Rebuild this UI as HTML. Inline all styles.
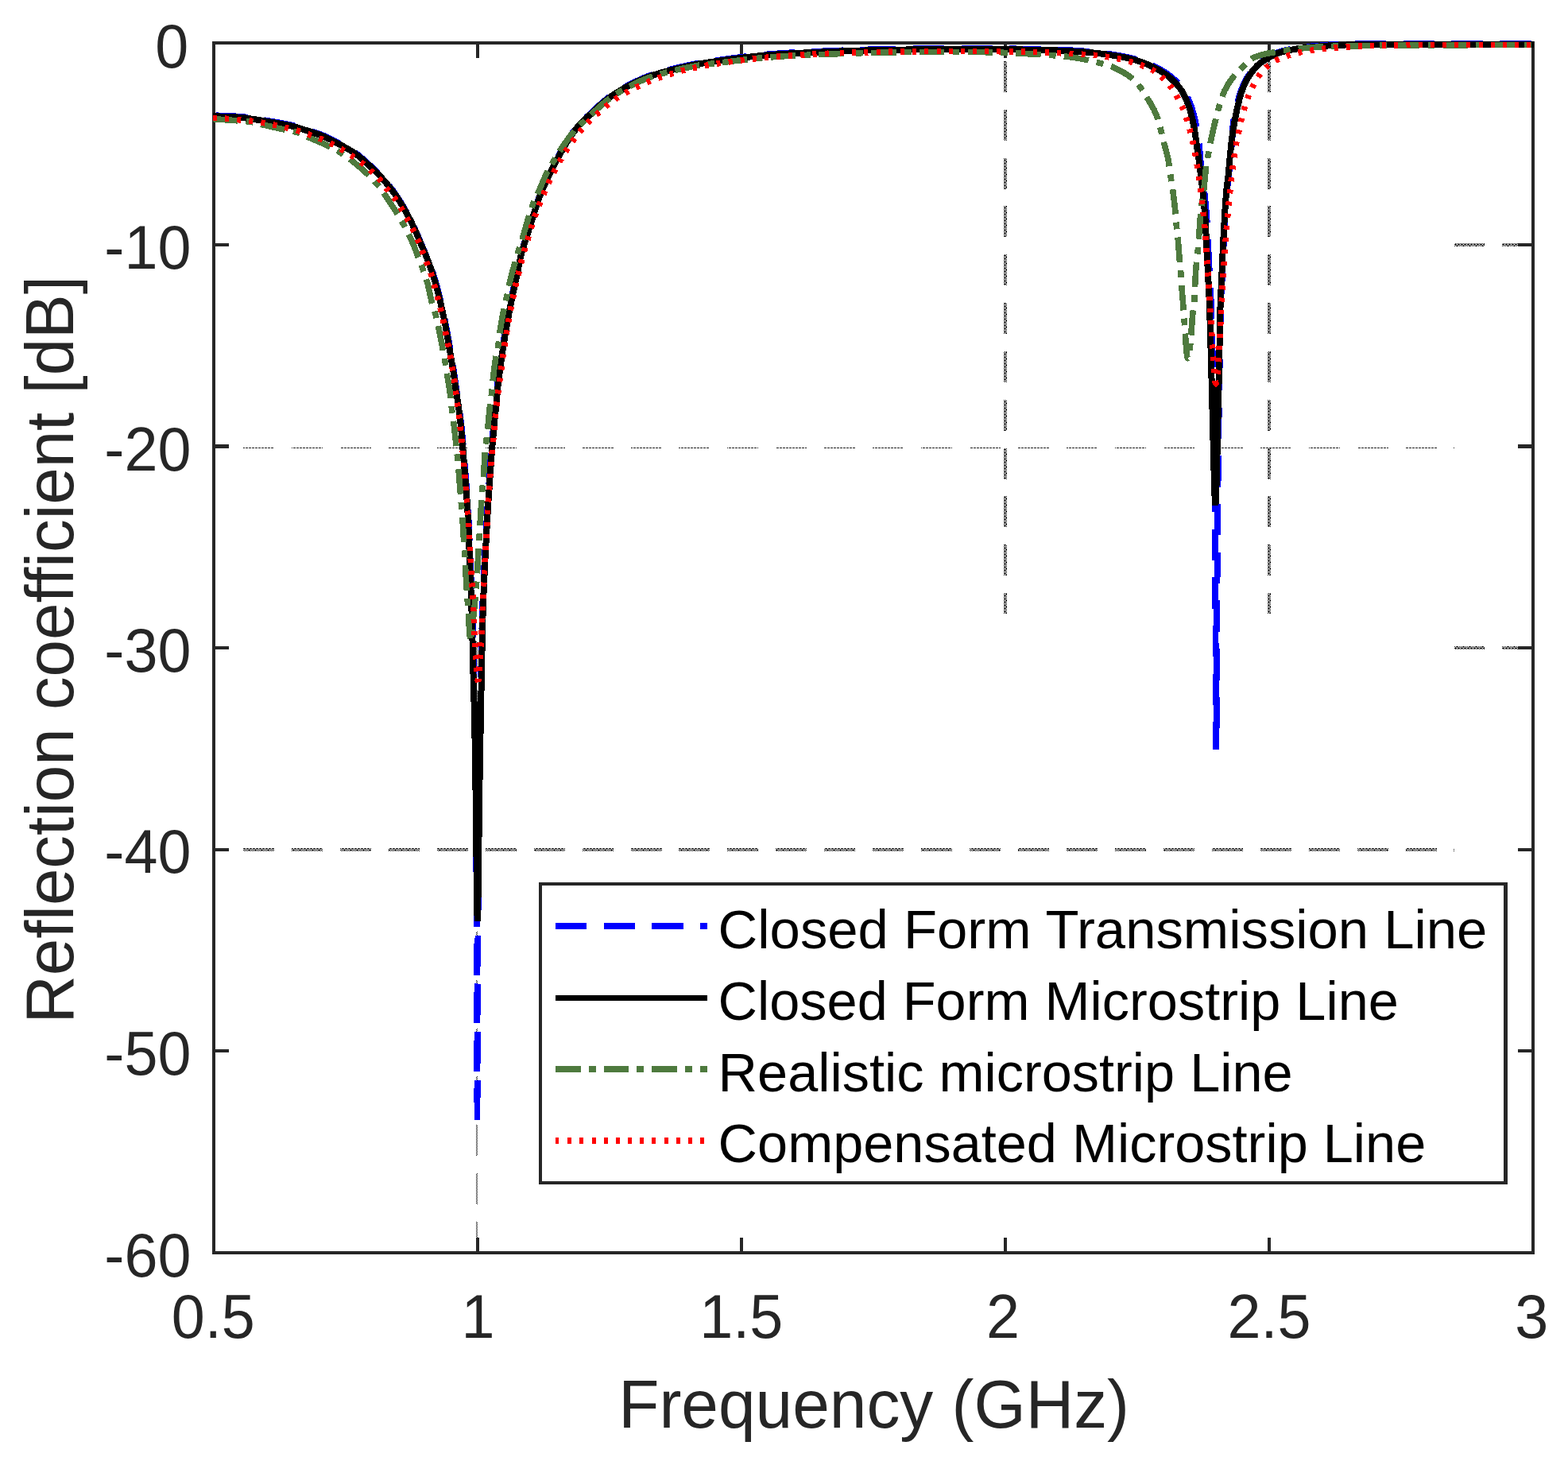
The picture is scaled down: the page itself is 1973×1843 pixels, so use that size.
<!DOCTYPE html>
<html lang="en">
<head>
<meta charset="utf-8">
<title>Reflection coefficient vs frequency</title>
<style>
html, body { margin: 0; padding: 0; background: #ffffff; }
body { width: 1973px; height: 1843px; overflow: hidden; font-family: 'Liberation Sans', Arial, Helvetica, sans-serif; }
svg { display: block; }
</style>
</head>
<body>
<svg width="1973" height="1843" viewBox="0 0 1973 1843" role="img" aria-label="Reflection coefficient versus frequency">
<rect x="0" y="0" width="1973" height="1843" fill="#ffffff"/>
<!-- grid -->
<defs>
<pattern id="dv" x="1263" y="77" width="4" height="8" patternUnits="userSpaceOnUse">
<path fill="#1a1a1a" d="M0 0h3v1h-3z M1 1h1v1h-1z M3 1h1v1h-1z M0 2h1v1h-1z M2 2h1v1h-1z M1 3h1v1h-1z M3 3h1v1h-1z M0 4h3v1h-3z M1 5h1v1h-1z M3 5h1v1h-1z M0 6h1v1h-1z M2 6h2v1h-2z M1 7h1v1h-1z M3 7h1v1h-1z"/>
</pattern>
<pattern id="dh" x="304" y="1067" width="8" height="4" patternUnits="userSpaceOnUse">
<path fill="#1a1a1a" d="M0 0h1v1h-1z M2 0h3v1h-3z M6 0h2v1h-2z M1 1h1v1h-1z M3 1h1v1h-1z M5 1h1v1h-1z M7 1h1v1h-1z M0 2h3v1h-3z M4 2h1v1h-1z M6 2h1v1h-1z M1 3h1v1h-1z M3 3h1v1h-1z M5 3h1v1h-1z M7 3h1v1h-1z"/>
</pattern>
<pattern id="d20" x="0" y="563" width="4" height="1" patternUnits="userSpaceOnUse">
<path fill="#1a1a1a" d="M1 0h3v1h-3z"/>
</pattern>
<pattern id="dc" x="599" y="1417" width="2" height="2" patternUnits="userSpaceOnUse">
<path fill="#1a1a1a" d="M0 0h1v1h-1z M1 1h1v1h-1z"/>
</pattern>
</defs>
<g shape-rendering="crispEdges" stroke="none">
<rect x="1263" y="77" width="4" height="39" fill="url(#dv)"/>
<rect x="1263" y="138" width="4" height="39" fill="url(#dv)"/>
<rect x="1263" y="199" width="4" height="39" fill="url(#dv)"/>
<rect x="1263" y="259" width="4" height="39" fill="url(#dv)"/>
<rect x="1263" y="320" width="4" height="39" fill="url(#dv)"/>
<rect x="1263" y="381" width="4" height="39" fill="url(#dv)"/>
<rect x="1263" y="442" width="4" height="39" fill="url(#dv)"/>
<rect x="1263" y="503" width="4" height="39" fill="url(#dv)"/>
<rect x="1263" y="564" width="4" height="39" fill="url(#dv)"/>
<rect x="1263" y="624" width="4" height="39" fill="url(#dv)"/>
<rect x="1263" y="685" width="4" height="39" fill="url(#dv)"/>
<rect x="1263" y="746" width="4" height="26" fill="url(#dv)"/>
<rect x="1595" y="77" width="4" height="39" fill="url(#dv)"/>
<rect x="1595" y="138" width="4" height="39" fill="url(#dv)"/>
<rect x="1595" y="199" width="4" height="39" fill="url(#dv)"/>
<rect x="1595" y="259" width="4" height="39" fill="url(#dv)"/>
<rect x="1595" y="320" width="4" height="39" fill="url(#dv)"/>
<rect x="1595" y="381" width="4" height="39" fill="url(#dv)"/>
<rect x="1595" y="442" width="4" height="39" fill="url(#dv)"/>
<rect x="1595" y="503" width="4" height="39" fill="url(#dv)"/>
<rect x="1595" y="564" width="4" height="39" fill="url(#dv)"/>
<rect x="1595" y="624" width="4" height="39" fill="url(#dv)"/>
<rect x="1595" y="685" width="4" height="39" fill="url(#dv)"/>
<rect x="1595" y="746" width="4" height="26" fill="url(#dv)"/>
<rect x="599" y="807" width="2" height="39" fill="url(#dc)"/>
<rect x="599" y="868" width="2" height="39" fill="url(#dc)"/>
<rect x="599" y="929" width="2" height="39" fill="url(#dc)"/>
<rect x="599" y="989" width="2" height="39" fill="url(#dc)"/>
<rect x="599" y="1050" width="2" height="39" fill="url(#dc)"/>
<rect x="599" y="1111" width="2" height="39" fill="url(#dc)"/>
<rect x="599" y="1172" width="2" height="39" fill="url(#dc)"/>
<rect x="599" y="1233" width="2" height="39" fill="url(#dc)"/>
<rect x="599" y="1294" width="2" height="39" fill="url(#dc)"/>
<rect x="599" y="1354" width="2" height="39" fill="url(#dc)"/>
<rect x="599" y="1415" width="2" height="39" fill="url(#dc)"/>
<rect x="599" y="1476" width="2" height="39" fill="url(#dc)"/>
<rect x="599" y="1537" width="2" height="39" fill="url(#dc)"/>
<rect x="306" y="563" width="39" height="1" fill="url(#d20)"/>
<rect x="306" y="1067" width="39" height="4" fill="url(#dh)"/>
<rect x="367" y="563" width="39" height="1" fill="url(#d20)"/>
<rect x="367" y="1067" width="39" height="4" fill="url(#dh)"/>
<rect x="428" y="563" width="39" height="1" fill="url(#d20)"/>
<rect x="428" y="1067" width="39" height="4" fill="url(#dh)"/>
<rect x="489" y="563" width="39" height="1" fill="url(#d20)"/>
<rect x="489" y="1067" width="39" height="4" fill="url(#dh)"/>
<rect x="550" y="563" width="39" height="1" fill="url(#d20)"/>
<rect x="550" y="1067" width="39" height="4" fill="url(#dh)"/>
<rect x="611" y="563" width="39" height="1" fill="url(#d20)"/>
<rect x="611" y="1067" width="39" height="4" fill="url(#dh)"/>
<rect x="672" y="563" width="39" height="1" fill="url(#d20)"/>
<rect x="672" y="1067" width="39" height="4" fill="url(#dh)"/>
<rect x="733" y="563" width="39" height="1" fill="url(#d20)"/>
<rect x="733" y="1067" width="39" height="4" fill="url(#dh)"/>
<rect x="794" y="563" width="39" height="1" fill="url(#d20)"/>
<rect x="794" y="1067" width="39" height="4" fill="url(#dh)"/>
<rect x="854" y="563" width="39" height="1" fill="url(#d20)"/>
<rect x="854" y="1067" width="39" height="4" fill="url(#dh)"/>
<rect x="915" y="563" width="39" height="1" fill="url(#d20)"/>
<rect x="915" y="1067" width="39" height="4" fill="url(#dh)"/>
<rect x="976" y="563" width="39" height="1" fill="url(#d20)"/>
<rect x="976" y="1067" width="39" height="4" fill="url(#dh)"/>
<rect x="1037" y="563" width="39" height="1" fill="url(#d20)"/>
<rect x="1037" y="1067" width="39" height="4" fill="url(#dh)"/>
<rect x="1098" y="563" width="39" height="1" fill="url(#d20)"/>
<rect x="1098" y="1067" width="39" height="4" fill="url(#dh)"/>
<rect x="1159" y="563" width="39" height="1" fill="url(#d20)"/>
<rect x="1159" y="1067" width="39" height="4" fill="url(#dh)"/>
<rect x="1220" y="563" width="39" height="1" fill="url(#d20)"/>
<rect x="1220" y="1067" width="39" height="4" fill="url(#dh)"/>
<rect x="1281" y="563" width="39" height="1" fill="url(#d20)"/>
<rect x="1281" y="1067" width="39" height="4" fill="url(#dh)"/>
<rect x="1342" y="563" width="39" height="1" fill="url(#d20)"/>
<rect x="1342" y="1067" width="39" height="4" fill="url(#dh)"/>
<rect x="1403" y="563" width="39" height="1" fill="url(#d20)"/>
<rect x="1403" y="1067" width="39" height="4" fill="url(#dh)"/>
<rect x="1464" y="563" width="39" height="1" fill="url(#d20)"/>
<rect x="1464" y="1067" width="39" height="4" fill="url(#dh)"/>
<rect x="1525" y="563" width="39" height="1" fill="url(#d20)"/>
<rect x="1525" y="1067" width="39" height="4" fill="url(#dh)"/>
<rect x="1586" y="563" width="39" height="1" fill="url(#d20)"/>
<rect x="1586" y="1067" width="39" height="4" fill="url(#dh)"/>
<rect x="1647" y="563" width="39" height="1" fill="url(#d20)"/>
<rect x="1647" y="1067" width="39" height="4" fill="url(#dh)"/>
<rect x="1708" y="563" width="39" height="1" fill="url(#d20)"/>
<rect x="1708" y="1067" width="39" height="4" fill="url(#dh)"/>
<rect x="1769" y="563" width="39" height="1" fill="url(#d20)"/>
<rect x="1769" y="1067" width="39" height="4" fill="url(#dh)"/>
<rect x="1829" y="563" width="1" height="1" fill="url(#d20)"/>
<rect x="1829" y="1067" width="1" height="4" fill="url(#dh)"/>
<rect x="1830" y="306" width="38" height="4" fill="url(#dh)"/>
<rect x="1890" y="306" width="21" height="4" fill="url(#dh)"/>
<rect x="1830" y="813" width="38" height="4" fill="url(#dh)"/>
<rect x="1890" y="813" width="21" height="4" fill="url(#dh)"/>
</g>
<!-- axes -->
<g stroke="#262626" stroke-width="4" fill="none" shape-rendering="crispEdges">
<rect x="269" y="54" width="1660" height="1522"/>
<line x1="601" y1="1576" x2="601" y2="1557"/>
<line x1="601" y1="54" x2="601" y2="73"/>
<line x1="933" y1="1576" x2="933" y2="1557"/>
<line x1="933" y1="54" x2="933" y2="73"/>
<line x1="1265" y1="1576" x2="1265" y2="1557"/>
<line x1="1265" y1="54" x2="1265" y2="73"/>
<line x1="1597" y1="1576" x2="1597" y2="1557"/>
<line x1="1597" y1="54" x2="1597" y2="73"/>
<line x1="269" y1="308" x2="288" y2="308"/>
<line x1="1929" y1="308" x2="1910" y2="308"/>
<line x1="269" y1="561.5" x2="288" y2="561.5" stroke-width="5"/>
<line x1="1929" y1="561.5" x2="1910" y2="561.5" stroke-width="5"/>
<line x1="269" y1="815" x2="288" y2="815"/>
<line x1="1929" y1="815" x2="1910" y2="815"/>
<line x1="269" y1="1069" x2="288" y2="1069"/>
<line x1="1929" y1="1069" x2="1910" y2="1069"/>
<line x1="269" y1="1322" x2="288" y2="1322"/>
<line x1="1929" y1="1322" x2="1910" y2="1322"/>
</g>
<!-- curves -->
<g fill="none" stroke-linejoin="miter" stroke-miterlimit="2" shape-rendering="crispEdges">
<path id="c-blue-a" stroke="#0000ff" stroke-width="7.8" stroke-dasharray="39.40 21.30" stroke-dashoffset="56.37" d="M268.00 145.12 L296.00 146.34 L304.00 146.88 L309.00 147.43 L333.00 151.20 L352.00 154.52 L363.00 156.66 L371.00 158.59 L379.00 160.96 L397.00 166.78 L404.00 169.30 L410.00 171.81 L416.00 174.76 L437.00 185.88 L444.00 190.12 L450.00 194.44 L457.00 200.24 L468.00 210.23 L476.00 218.15 L483.00 225.74 L490.00 234.03 L496.00 241.93 L501.00 249.26 L507.00 258.90 L513.00 269.55 L516.00 275.31 L519.00 281.43 L524.00 292.42 L531.00 309.13 L536.00 320.54 L541.00 332.93 L545.00 344.10 L548.00 353.94 L551.00 364.96 L554.00 376.74 L557.00 389.57 L560.00 403.71 L563.20 420.44 L570.60 463.93 L574.20 489.56 L576.50 503.74 L578.20 515.77 L580.50 535.29 L582.90 561.40 L588.00 625.07 L589.80 656.97 L593.10 738.03 L594.40 774.43 L596.30 851.60 L597.49 890.62 L598.04 920.39 L598.76 989.43 L599.37 1086.61 L600.50 1414.13 L601.28 1205.26 L601.87 1098.61 L602.79 997.01 L604.05 908.54 L606.30 793.29 L607.30 758.91 L608.30 734.22 L610.10 696.15 L614.10 624.99 L615.80 602.10 L617.30 579.09 L618.50 563.76 L621.40 530.83 L624.20 505.48 L625.70 486.76 L626.90 476.41 L630.30 451.01 L632.80 434.25 L635.60 417.11 L638.70 399.61 L642.00 382.43 L645.00 367.86 L650.00 345.34 L654.00 324.68 L655.00 320.38 L657.00 313.83 L660.00 305.30 L675.00 257.73 L678.00 248.85 L682.00 238.78 L686.00 229.87 L696.00 209.25 L703.00 195.69 L710.00 183.46 L716.00 173.64 L719.00 169.08 L722.00 164.83 L727.00 158.51 L730.00 155.21 L733.00 152.18 L752.00 134.23 L759.00 128.00 L766.00 122.44 L775.00 116.26 L780.00 113.14 L785.00 110.23 L796.00 104.43 L807.00 99.24 L812.00 97.12 L817.00 95.20 L823.00 93.14 L829.00 91.29 L843.00 87.49 L863.00 82.72 L875.00 80.21 L886.00 78.27 L928.00 72.38 L946.00 70.25 L960.00 68.80 L975.00 67.60 L992.00 66.49 L1011.00 65.48 L1057.00 63.46 L1080.00 62.69 L1100.00 62.20"/>
<path id="c-blue-b" stroke="#0000ff" stroke-width="7.8" stroke-dasharray="39.40 21.30" stroke-dashoffset="11.86" d="M1100.00 62.20 L1150.00 61.33 L1190.00 60.95 L1249.00 60.98 L1308.00 61.81 L1321.00 62.13 L1334.00 62.63 L1348.00 63.30 L1360.00 64.05 L1369.00 64.79 L1379.00 65.82 L1388.00 66.90 L1397.00 68.16 L1407.00 69.77 L1416.00 71.46 L1424.00 73.28 L1431.00 75.19 L1438.00 77.55 L1445.00 80.29 L1453.00 83.80 L1459.00 86.83 L1465.00 90.36 L1470.00 93.77 L1475.00 97.70 L1480.00 102.25 L1484.00 106.45 L1488.00 111.47 L1490.90 115.88 L1493.60 120.94 L1496.30 126.93 L1498.50 132.64 L1500.70 139.47 L1502.70 146.85 L1504.30 153.97 L1505.60 160.78 L1508.00 176.17 L1509.00 183.56 L1510.70 203.05 L1511.80 212.60 L1515.00 237.24 L1516.90 255.71 L1518.10 269.67 L1519.10 284.96 L1520.60 317.20 L1523.70 377.68 L1524.90 412.46 L1526.10 460.76 L1527.07 512.80 L1527.91 573.65 L1528.54 634.67 L1529.07 702.65 L1530.17 919.97 L1530.40 942.70 L1530.63 920.23 L1531.65 719.58 L1532.65 600.72 L1533.38 540.09 L1534.24 483.32 L1535.70 403.09 L1536.40 377.41 L1537.50 356.30 L1540.30 294.56 L1542.70 254.09 L1543.90 239.10 L1546.30 220.00 L1548.20 197.75 L1550.10 180.03 L1550.50 175.00 L1551.50 156.95 L1552.20 151.61 L1553.10 146.67 L1555.10 138.74 L1558.60 123.80 L1559.90 119.13 L1561.20 115.17 L1562.80 110.86 L1564.50 106.83 L1566.90 101.88 L1569.50 97.23 L1572.00 93.32 L1575.00 89.26 L1579.00 84.55 L1582.00 81.52 L1585.00 78.94 L1589.00 76.04 L1593.00 73.52 L1600.00 69.51 L1604.00 67.45 L1607.00 66.19 L1613.00 64.30 L1619.00 62.81 L1626.00 61.40 L1634.00 60.11 L1648.00 58.51 L1673.00 56.34 L1686.00 55.72 L1704.00 55.23 L1762.00 54.85 L1930.00 54.75"/>
<path id="c-black" stroke="#000000" stroke-width="8.0" d="M268.00 146.12 L296.00 147.34 L304.00 147.88 L309.00 148.43 L332.00 152.04 L350.00 155.16 L361.00 157.24 L370.00 159.33 L379.00 161.96 L396.00 167.44 L403.00 169.91 L409.00 172.35 L416.00 175.76 L435.00 185.77 L442.00 189.84 L447.00 193.19 L453.00 197.84 L461.00 204.80 L470.00 213.14 L478.00 221.25 L485.00 229.03 L491.00 236.29 L497.00 244.34 L502.00 251.81 L507.00 259.90 L512.00 268.70 L517.00 278.30 L521.00 286.73 L524.00 293.42 L531.00 310.13 L536.00 321.52 L540.00 331.74 L544.00 343.17 L547.00 352.95 L551.00 367.64 L555.00 383.87 L558.00 397.40 L560.00 407.22 L562.70 421.56 L570.30 466.50 L573.50 489.56 L575.70 503.09 L576.80 510.63 L578.20 521.22 L579.50 532.43 L582.00 558.99 L587.40 626.50 L588.40 643.27 L589.50 665.74 L593.20 759.40 L594.10 788.12 L595.60 851.60 L596.88 895.04 L598.16 963.44 L600.17 1133.06 L600.50 1152.32 L600.80 1158.39 L601.08 1153.36 L601.40 1137.34 L603.29 994.56 L604.90 900.00 L607.20 784.77 L608.00 758.90 L609.00 734.21 L611.10 690.34 L614.40 631.34 L618.90 567.38 L621.80 533.97 L622.60 525.92 L624.70 507.56 L625.90 492.06 L626.70 483.94 L630.00 458.19 L633.20 436.18 L637.40 410.73 L642.00 385.96 L646.00 366.46 L651.00 343.92 L654.00 328.26 L656.00 319.23 L658.00 312.51 L675.00 258.73 L678.00 249.85 L681.00 242.17 L684.00 235.22 L688.00 226.66 L696.00 210.25 L701.00 200.43 L705.00 193.10 L711.00 182.77 L716.00 174.64 L720.00 168.63 L725.00 161.91 L728.00 158.37 L731.00 155.18 L735.00 151.25 L751.00 136.16 L756.00 131.61 L760.00 128.16 L764.00 124.95 L768.00 122.00 L773.00 118.57 L779.00 114.75 L784.00 111.79 L789.00 109.04 L801.00 102.99 L810.00 98.95 L819.00 95.48 L830.00 91.99 L843.00 88.49 L863.00 83.72 L871.00 82.01 L879.00 80.46 L891.00 78.52 L921.00 74.30 L943.00 71.59 L961.00 69.71 L980.00 68.25 L1002.00 66.93 L1054.00 64.58 L1083.00 63.60 L1143.00 62.44 L1179.00 62.02 L1242.00 61.95 L1260.00 62.09 L1315.00 62.96 L1329.00 63.42 L1346.00 64.19 L1357.00 64.84 L1366.00 65.52 L1376.00 66.49 L1386.00 67.64 L1396.00 69.01 L1405.00 70.43 L1414.00 72.05 L1421.00 73.55 L1427.00 75.05 L1432.00 76.53 L1437.00 78.29 L1442.00 80.28 L1448.00 82.88 L1453.00 85.27 L1458.00 87.95 L1463.00 91.00 L1469.00 95.27 L1474.00 99.44 L1479.00 104.27 L1483.00 108.84 L1485.00 111.47 L1487.00 114.41 L1489.30 118.38 L1492.30 124.61 L1495.00 131.25 L1497.10 137.49 L1499.10 144.47 L1500.80 151.61 L1502.40 159.64 L1504.40 172.23 L1506.30 186.25 L1508.40 200.39 L1511.30 222.39 L1512.80 235.37 L1514.70 253.63 L1515.70 264.65 L1516.60 276.61 L1517.20 286.90 L1518.60 317.20 L1521.70 377.67 L1523.00 417.87 L1527.95 608.48 L1528.68 628.62 L1529.00 633.44 L1529.30 635.00 L1529.49 634.37 L1529.68 632.52 L1530.08 625.07 L1531.05 592.91 L1534.20 451.80 L1535.30 394.59 L1535.70 380.00 L1536.90 356.30 L1538.50 319.35 L1539.90 290.70 L1541.50 263.24 L1542.70 245.94 L1543.60 236.26 L1545.80 219.02 L1547.60 197.75 L1549.60 178.10 L1551.70 162.99 L1554.40 147.80 L1556.30 138.80 L1559.00 126.99 L1560.60 120.83 L1562.20 115.75 L1564.40 109.87 L1566.90 104.26 L1570.00 98.43 L1573.00 93.63 L1576.00 89.50 L1579.00 85.80 L1582.00 82.58 L1585.00 79.93 L1588.00 77.69 L1592.00 75.12 L1600.00 70.51 L1604.00 68.45 L1607.00 67.19 L1611.00 65.88 L1615.00 64.76 L1620.00 63.59 L1631.00 61.56 L1637.00 60.71 L1644.00 59.91 L1666.00 57.89 L1676.00 57.15 L1691.00 56.56 L1707.00 56.19 L1737.00 55.94 L1773.00 55.82 L1930.00 55.75"/>
<path id="c-green-a" stroke="#4e7a3e" stroke-width="7.6" stroke-dasharray="31.50 10.20 8.80 10.20" d="M268.00 149.63 L305.00 152.28 L311.00 152.82 L316.00 153.45 L320.00 154.26 L329.00 156.57 L340.00 159.06 L358.00 163.07 L371.00 165.78 L374.00 166.61 L377.00 167.72 L387.00 172.30 L405.00 179.94 L417.00 185.68 L426.00 190.53 L432.00 194.26 L438.00 198.47 L445.00 203.89 L452.00 209.70 L459.00 215.82 L465.00 221.44 L470.00 226.54 L475.00 232.15 L479.00 237.23 L483.00 242.86 L498.00 265.82 L502.00 272.30 L506.00 279.17 L510.00 286.51 L514.00 294.27 L518.00 302.70 L522.00 312.20 L526.00 323.26 L531.00 335.85 L534.00 343.88 L536.00 349.64 L538.00 356.52 L543.00 378.95 L544.00 382.86 L548.00 395.40 L549.00 399.15 L552.60 415.61 L555.70 431.38 L559.70 453.21 L565.70 490.56 L567.10 500.70 L568.80 517.10 L570.80 531.80 L572.50 546.22 L575.50 574.60 L577.40 595.82 L582.10 655.28 L587.10 738.81 L590.76 794.22 L591.62 803.99 L592.01 806.25 L592.21 806.80 L592.41 806.97 L592.67 806.63 L592.92 805.67 L593.44 801.70 L595.10 780.90 L597.30 760.93 L599.40 737.25 L600.30 723.53 L604.00 659.86 L606.50 620.93 L607.10 613.00 L608.50 598.79 L609.90 574.86 L610.50 567.25 L613.60 540.05 L616.30 512.27 L616.90 507.24 L618.70 494.70 L620.10 479.20 L622.00 462.73 L624.10 448.31 L626.30 437.74 L627.00 433.80 L629.00 417.50 L630.30 408.95 L631.80 400.20 L634.00 388.90 L638.00 371.46 L641.00 356.32 L644.00 344.26 L650.00 323.22 L657.00 301.11 L664.00 277.04 L669.00 261.06 L670.00 258.22 L672.00 253.28 L677.00 242.68 L685.00 224.02 L688.00 217.55 L690.00 213.74 L692.00 210.27 L705.00 188.94 L710.00 181.45 L715.00 174.38 L720.00 167.90 L724.00 163.27 L728.00 159.17 L734.00 153.42 L751.00 137.49 L757.00 132.03 L762.00 127.79 L767.00 123.97 L774.00 119.15 L781.00 114.78 L788.00 110.82 L797.00 106.20 L805.00 102.42 L813.00 99.04 L820.00 96.50 L830.00 93.41 L842.00 90.25 L861.00 85.78 L874.00 83.12 L881.00 81.94 L887.00 81.10 L903.00 79.26 L937.00 75.09 L950.00 73.61 L960.00 72.63 L987.00 70.71 L1018.00 69.14 L1068.00 67.15"/>
<path id="c-green-b" stroke="#4e7a3e" stroke-width="7.6" stroke-dasharray="31.50 10.20 8.80 10.20" stroke-dashoffset="32.55" d="M1068.00 67.15 L1084.00 66.71 L1150.00 65.32 L1233.00 65.53 L1261.00 66.23 L1281.00 67.06 L1312.00 68.71 L1333.00 70.31 L1342.00 71.23 L1350.00 72.20 L1360.00 73.87 L1369.00 75.70 L1377.00 77.53 L1388.00 80.38 L1394.00 82.14 L1398.00 83.54 L1403.00 85.60 L1407.00 87.48 L1411.00 89.60 L1415.00 91.96 L1419.00 94.57 L1423.00 97.45 L1426.00 99.95 L1429.00 102.91 L1432.00 106.27 L1435.00 109.94 L1438.00 114.20 L1449.00 132.32 L1452.00 137.92 L1454.00 142.19 L1456.60 148.68 L1458.10 153.59 L1461.20 165.79 L1464.50 179.49 L1468.30 193.30 L1469.80 200.00 L1470.70 205.28 L1473.10 222.34 L1475.70 238.82 L1477.30 251.29 L1478.70 264.23 L1480.30 283.50 L1482.20 300.75 L1484.30 327.74 L1485.90 344.50 L1487.00 361.60 L1488.60 381.64 L1492.82 440.65 L1493.66 448.25 L1494.06 449.95 L1494.27 450.36 L1494.50 450.50 L1494.81 450.29 L1495.15 449.62 L1495.90 446.94 L1496.66 442.81 L1497.37 437.54 L1498.31 427.55 L1500.50 397.60 L1501.00 393.09 L1502.10 385.65 L1502.60 381.06 L1503.10 373.63 L1503.80 354.97 L1504.70 340.47 L1505.60 329.64 L1506.90 318.19 L1507.50 311.77 L1508.60 297.94 L1510.20 275.02 L1511.10 265.30 L1512.50 253.71 L1514.80 238.28 L1516.90 216.56 L1517.70 209.78 L1518.90 202.38 L1524.00 175.04 L1528.10 156.56 L1530.60 146.43 L1532.80 138.17 L1537.00 123.83 L1539.00 118.33 L1541.00 113.99 L1543.00 110.12 L1546.00 105.03 L1549.00 100.59 L1553.00 95.32 L1555.00 92.94 L1558.00 89.71 L1571.00 77.15 L1573.00 75.43 L1575.00 73.93 L1577.00 72.72 L1579.00 71.83 L1583.00 70.37 L1587.00 69.16 L1591.00 68.13 L1596.00 67.03 L1610.00 64.44 L1626.00 62.20 L1634.00 61.28 L1648.00 59.88 L1662.00 58.79 L1682.00 58.15 L1722.00 57.57 L1757.00 56.82 L1930.00 56.60"/>
<path id="c-red-a" stroke="#ff0000" stroke-width="7.6" stroke-dasharray="5.00 10.18" d="M268.00 148.48 L277.00 148.81 L287.00 149.41 L317.00 152.35 L325.00 153.46 L334.00 154.93 L342.00 156.47 L351.00 158.41 L371.00 163.34 L376.00 164.76 L381.00 166.42 L400.00 173.26 L406.00 175.62 L415.00 179.71 L420.00 182.23 L424.00 184.43 L433.00 189.77 L440.00 194.18 L449.00 200.25 L455.00 204.63 L459.00 207.91 L463.00 211.54 L473.00 221.06 L478.00 226.22 L481.00 229.85 L488.00 239.22 L496.00 248.58 L498.00 251.22 L500.00 254.16 L507.00 265.68 L512.00 274.37 L518.00 285.31 L522.00 293.29 L525.00 299.85 L528.00 306.96 L537.00 330.12 L541.00 340.96 L543.00 346.90 L545.00 353.62 L553.00 382.79 L555.00 390.80 L556.00 395.38 L565.60 442.29 L567.30 451.57 L572.20 481.71 L574.20 497.84 L577.70 524.29 L579.10 536.25 L582.50 570.80 L586.10 610.03 L587.60 631.90 L589.30 654.07 L591.10 682.99 L595.30 758.78 L596.30 780.10 L597.00 799.40 L598.16 819.39 L599.04 832.41 L600.43 849.48 L601.06 854.96 L601.34 856.26 L601.61 856.67 L601.91 855.91 L602.19 853.63 L603.06 841.04 L604.44 825.55 L606.00 794.52 L609.40 720.40 L612.50 664.92 L613.90 636.57 L614.50 627.16 L615.80 612.45 L617.60 585.97 L619.40 567.30 L622.00 537.60 L625.00 507.80 L628.60 479.41 L631.00 462.83 L632.90 447.74 L634.60 436.02 L639.60 405.45 L641.20 396.33 L643.00 386.90 L648.00 362.74 L650.00 353.86 L653.00 342.16 L656.00 328.90 L660.00 314.42 L671.00 278.12 L673.00 271.90 L675.00 266.33 L684.00 244.13 L687.00 237.25 L696.00 218.08 L698.00 214.09 L701.00 208.59 L709.00 194.87 L713.00 188.37 L718.00 181.12 L726.00 170.37 L731.00 164.01 L736.00 158.32 L743.00 151.10 L749.00 145.39 L757.00 138.29 L765.00 131.72 L774.00 124.93 L781.00 120.27 L788.00 116.09 L795.00 112.36 L808.00 106.21 L817.00 102.28 L825.00 99.23 L834.00 96.15 L854.00 90.09 L860.00 88.38 L868.00 86.47 L880.00 83.94 L889.00 82.22 L898.00 80.74 L917.00 77.95 L930.00 76.19 L950.00 73.76 L964.00 72.31 L986.00 70.55 L1016.00 68.57 L1032.00 67.66 L1048.00 67.02"/>
<path id="c-red-b" stroke="#ff0000" stroke-width="7.6" stroke-dasharray="5.00 10.18" stroke-dashoffset="6.06" d="M1048.00 67.02 L1090.00 65.75 L1147.00 64.79 L1196.00 64.41 L1243.00 64.51 L1286.00 65.09 L1315.00 65.83 L1328.00 66.36 L1371.00 68.82 L1377.00 69.27 L1382.00 69.83 L1403.00 73.05 L1408.00 73.98 L1413.00 75.09 L1424.00 78.03 L1430.00 79.89 L1435.00 81.61 L1442.00 84.26 L1447.00 86.43 L1450.00 87.97 L1453.00 89.80 L1456.00 92.01 L1459.00 94.50 L1464.00 99.01 L1468.00 102.97 L1471.00 106.32 L1474.00 110.09 L1477.00 114.52 L1480.00 119.52 L1483.00 124.95 L1486.00 131.01 L1488.00 135.50 L1490.70 142.36 L1493.20 149.59 L1495.10 155.80 L1498.00 166.39 L1500.20 175.12 L1501.90 182.79 L1503.70 192.09 L1508.30 219.98 L1510.70 236.67 L1512.60 254.40 L1514.30 268.54 L1515.70 284.50 L1516.90 295.93 L1517.30 301.51 L1517.90 315.00 L1519.10 329.90 L1520.30 351.53 L1522.80 387.73 L1527.08 460.67 L1527.82 470.29 L1528.50 476.86 L1529.15 480.72 L1529.47 481.67 L1529.80 482.00 L1530.15 481.64 L1530.51 480.51 L1531.24 476.02 L1532.01 468.43 L1532.86 457.34 L1534.90 423.53 L1539.00 346.62 L1540.30 329.90 L1543.50 284.50 L1545.00 269.10 L1546.60 250.86 L1550.50 215.93 L1551.80 205.63 L1555.00 184.17 L1555.90 178.70 L1557.00 173.07 L1562.40 148.80 L1565.90 135.87 L1568.10 128.73 L1570.00 123.08 L1572.00 117.86 L1575.00 111.04 L1577.00 107.03 L1580.00 101.59 L1583.00 96.70 L1585.00 93.85 L1587.00 91.37 L1590.00 88.03 L1593.00 85.10 L1596.00 82.54 L1600.00 79.60 L1604.00 77.04 L1607.00 75.37 L1611.00 73.49 L1615.00 71.90 L1619.00 70.50 L1625.00 68.64 L1631.00 66.94 L1636.00 65.72 L1640.00 64.92 L1647.00 63.77 L1658.00 62.24 L1666.00 61.27 L1675.00 60.36 L1688.00 59.36 L1706.00 58.32 L1730.00 57.30 L1745.00 56.90 L1795.00 56.41 L1930.00 56.30"/>
</g>
<!-- tick labels -->
<g font-family="'Liberation Sans', Arial, Helvetica, sans-serif" font-size="78.5" fill="#262626">
<text transform="translate(268.3,1683.4) scale(0.962,1)" text-anchor="middle">0.5</text>
<text transform="translate(601.5,1683.4) scale(0.962,1)" text-anchor="middle">1</text>
<text transform="translate(932.8,1683.4) scale(0.962,1)" text-anchor="middle">1.5</text>
<text transform="translate(1262.1,1683.4) scale(0.962,1)" text-anchor="middle">2</text>
<text transform="translate(1597.0,1683.4) scale(0.962,1)" text-anchor="middle">2.5</text>
<text transform="translate(1927.2,1683.4) scale(0.962,1)" text-anchor="middle">3</text>
<text transform="translate(237.2,85.4) scale(0.962,1)" text-anchor="end">0</text>
<text transform="translate(240.4,337.9) scale(0.962,1)" text-anchor="end">-10</text>
<text transform="translate(240.4,591.7) scale(0.962,1)" text-anchor="end">-20</text>
<text transform="translate(240.4,845.2) scale(0.962,1)" text-anchor="end">-30</text>
<text transform="translate(240.4,1098.3) scale(0.962,1)" text-anchor="end">-40</text>
<text transform="translate(240.4,1352.3) scale(0.962,1)" text-anchor="end">-50</text>
<text transform="translate(240.4,1605.7) scale(0.962,1)" text-anchor="end">-60</text>
</g>
<!-- axis labels -->
<g font-family="'Liberation Sans', Arial, Helvetica, sans-serif" font-size="85.2" fill="#262626">
<text transform="translate(1099.6,1795.6) scale(0.984,1)" text-anchor="middle">Frequency (GHz)</text>
<text transform="translate(91.6,817.3) rotate(-90) scale(0.98,1)" text-anchor="middle">Reflection coefficient [dB]</text>
</g>
<!-- legend -->
<g shape-rendering="crispEdges" stroke="none">
<rect x="678" y="1110" width="1219" height="380" fill="#262626"/>
<rect x="682" y="1114" width="1210" height="372" fill="#ffffff"/>
</g>
<g fill="none" shape-rendering="crispEdges">
<line x1="699" y1="1165.0" x2="890" y2="1165.0" stroke="#0000ff" stroke-width="8" stroke-dasharray="39.4 21.3"/>
<line x1="699" y1="1255.5" x2="890" y2="1255.5" stroke="#000000" stroke-width="7"/>
<line x1="699" y1="1345.0" x2="890" y2="1345.0" stroke="#4e7a3e" stroke-width="8" stroke-dasharray="31.5 10.2 8.8 10.2"/>
<line x1="699" y1="1435.0" x2="890" y2="1435.0" stroke="#ff0000" stroke-width="8" stroke-dasharray="4 11.18 5 10.18 5 10.18 5 10.18 5 10.18 5 10.18 5 10.18 5 10.18 5 10.18 5 10.18 5 10.18 5 10.18 5 10.18"/>
</g>
<g font-family="'Liberation Sans', Arial, Helvetica, sans-serif" font-size="69.4" fill="#000000">
<text transform="translate(903.6,1193.0) scale(0.992,1)">Closed Form Transmission Line</text>
<text transform="translate(903.6,1282.5) scale(0.9868,1)">Closed Form Microstrip Line</text>
<text transform="translate(903.6,1372.7) scale(0.9868,1)">Realistic microstrip Line</text>
<text transform="translate(903.6,1462.0) scale(0.9868,1)">Compensated Microstrip Line</text>
</g>
</svg>
</body>
</html>
